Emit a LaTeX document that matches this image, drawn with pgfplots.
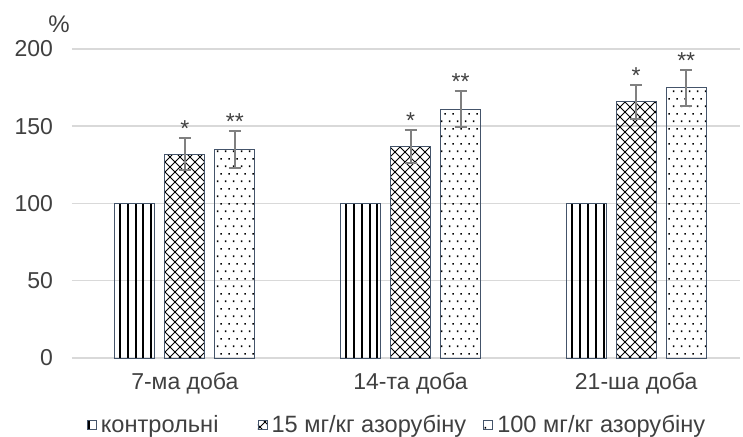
\documentclass[border=0pt]{standalone}
\usepackage{fontspec}
\setmainfont{Liberation Sans}
\usepackage{pgfplots}
\pgfplotsset{compat=1.18}
\usetikzlibrary{patterns}
\definecolor{txt}{HTML}{404040}
\definecolor{gridc}{HTML}{D9D9D9}
\definecolor{edgec}{HTML}{44546A}
\definecolor{errc}{HTML}{808080}

\pgfdeclarepatternformonly{vstripes}{\pgfqpoint{0pt}{-0.5pt}}{\pgfqpoint{3.9pt}{4.5pt}}{\pgfqpoint{3.9pt}{4pt}}{%
  \pgfsetlinewidth{1.05pt}%
  \pgfpathmoveto{\pgfqpoint{1.5pt}{-0.5pt}}\pgfpathlineto{\pgfqpoint{1.5pt}{4.5pt}}%
  \pgfusepath{stroke}}
\pgfdeclarepatternformonly{diagx}{\pgfqpoint{-0.5pt}{-0.5pt}}{\pgfqpoint{5.5pt}{5.5pt}}{\pgfqpoint{5pt}{5pt}}{%
  \pgfsetlinewidth{0.45pt}%
  \pgfpathmoveto{\pgfqpoint{-0.3pt}{-0.3pt}}\pgfpathlineto{\pgfqpoint{5.3pt}{5.3pt}}%
  \pgfpathmoveto{\pgfqpoint{-0.3pt}{5.3pt}}\pgfpathlineto{\pgfqpoint{5.3pt}{-0.3pt}}%
  \pgfusepath{stroke}}
\pgfdeclarepatternformonly{sdots}{\pgfqpoint{0pt}{0pt}}{\pgfqpoint{4pt}{7.4pt}}{\pgfqpoint{4pt}{7.4pt}}{%
  \pgfpathrectangle{\pgfqpoint{0.5pt}{0.5pt}}{\pgfqpoint{0.8pt}{0.8pt}}%
  \pgfpathrectangle{\pgfqpoint{2.5pt}{4.2pt}}{\pgfqpoint{0.8pt}{0.8pt}}%
  \pgfusepath{fill}}

\begin{document}
\begin{tikzpicture}[font=\fontsize{11.5}{13.8}\selectfont, text=txt]
\path[use as bounding box] (-36pt,-39.5pt) rectangle (335.5pt,179pt);
\begin{axis}[
  at={(0pt,0pt)}, anchor=south west,
  scale only axis, width=334pt, height=154.5pt,
  xmin=-0.5, xmax=2.46, ymin=0, ymax=200,
  ytick={0,50,100,150,200},
  xtick={0,1,2},
  xticklabels={7-ма доба,14-та доба,21-ша доба},
  ymajorgrids, grid style={draw=gridc, line width=0.75pt},
  axis line style={draw=none}, major tick length=0pt,
  ybar=5pt, bar width=20pt,
  /pgf/number format/assume math mode=true,
  tick label style={text=txt, font=\fontsize{11.5}{13.8}\selectfont},
  yticklabel style={xshift=-6pt},
  xticklabel style={yshift=-4pt},
  legend columns=3,
  legend cell align=left,
  legend style={draw=none, fill=none, at={(0.5,-0.217)}, xshift=-4pt, anchor=center,
    font=\fontsize{11.8}{14}\selectfont, text=txt,
    /tikz/column 2/.style={column sep=17.5pt},
    /tikz/column 4/.style={column sep=6.5pt}},
  legend image code/.code={\draw[#1, line width=0.4pt] (0pt,-2.3pt) rectangle (4.6pt,2.3pt);},
  error bars/y dir=both, error bars/y explicit,
  error bars/error bar style={line width=1pt, draw=errc},
  error bars/error mark options={rotate=90, mark size=3pt, line width=1pt, draw=errc},
  clip=false,
]
\addplot[draw=edgec, line width=0.4pt, pattern=vstripes, pattern color=black, error bars/y dir=none]
  coordinates {(0,100) (1,100) (2,100)};
\addplot[draw=edgec, line width=0.4pt, pattern=diagx, pattern color=black]
  coordinates {(0,132) +- (0,10.5) (1,137) +- (0,10.5) (2,166) +- (0,11)};
\addplot[draw=edgec, line width=0.4pt, pattern=sdots, pattern color=black]
  coordinates {(0,135) +- (0,12) (1,161) +- (0,11.7) (2,175) +- (0,11.7)};
\legend{контрольні,15 мг/кг азорубіну,100 мг/кг азорубіну}
\end{axis}
\begin{axis}[
  at={(0pt,0pt)}, anchor=south west,
  scale only axis, width=334pt, height=154.5pt,
  xmin=-0.5, xmax=2.46, ymin=0, ymax=200,
  hide axis, clip=false,
]
\node[anchor=south, inner sep=0.5pt, text=txt] at (axis cs:0,142.5) {*};
\node[anchor=south, inner sep=0.5pt, text=txt] at (axis cs:0.2217,147) {**};
\node[anchor=south, inner sep=0.5pt, text=txt] at (axis cs:1,147.5) {*};
\node[anchor=south, inner sep=0.5pt, text=txt] at (axis cs:1.2217,172.7) {**};
\node[anchor=south, inner sep=0.5pt, text=txt] at (axis cs:2,177) {*};
\node[anchor=south, inner sep=0.5pt, text=txt] at (axis cs:2.2217,186.7) {**};
\node[text=txt, font=\fontsize{12}{14}\selectfont] at (rel axis cs:0,1) [xshift=-6.5pt, yshift=12.5pt] {\%};
\end{axis}
\end{tikzpicture}
\end{document}
